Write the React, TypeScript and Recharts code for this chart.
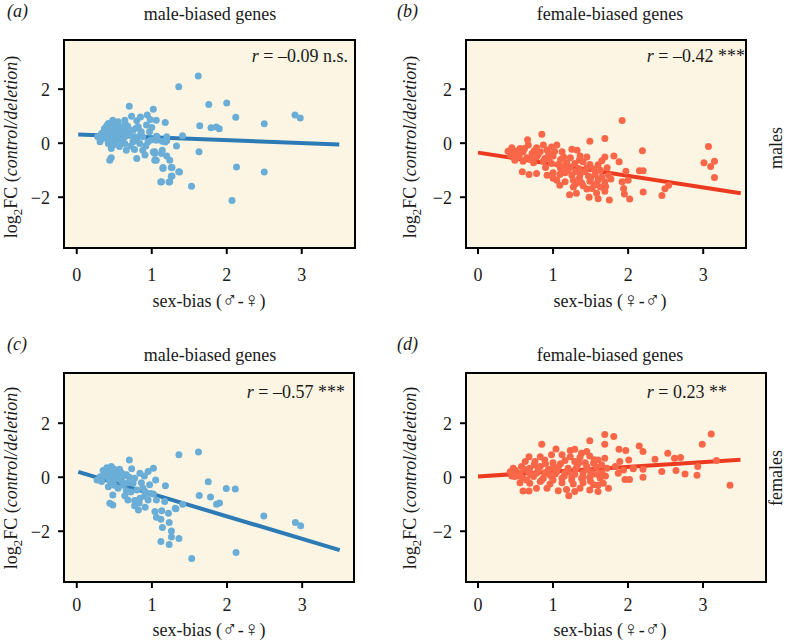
import React from "react";
import { ScatterChart, Scatter, XAxis, YAxis, CartesianGrid, ReferenceArea, ReferenceLine } from "recharts";

const xTicks = [0, 1, 2, 3];
const yTicks = [-2, 0, 2];

// (a) male-biased genes, males
const maleBiasedMales: number[][] = [
  [1.36, 2.09], [1.62, 2.49], [1.76, 1.43], [2.0, 1.49], [2.12, 0.96], [2.91, 1.04], [2.98, 0.93], [2.5, 0.72],
  [1.64, 0.65], [1.79, 0.57], [1.86, 0.6], [1.9, 0.53], [1.41, 0.28], [1.33, -0.1], [1.63, -0.32], [2.13, -0.88],
  [2.5, -1.07], [1.37, -1.07], [1.53, -1.59], [2.07, -2.12], [1.12, -1.44], [1.23, -1.44], [1.27, -1.21], [1.27, -0.9],
  [1.15, -0.9], [1.04, -0.63], [1.2, -0.47], [1.24, -0.63], [1.02, -0.33], [1.18, 0.04], [1.2, 0.24], [1.06, 0.85],
  [1.02, 1.26], [1.14, 0.07], [1.07, 0.25], [0.99, 0.12], [1.0, 0.58], [0.98, 0.88],
  [0.7, 1.37], [0.73, 1.0], [0.85, 0.97], [0.94, 1.04], [0.8, 0.83], [1.18, 0.77], [0.48, 0.85], [0.42, 0.73],
  [0.55, 0.79], [0.64, 0.85], [0.37, 0.54], [0.46, 0.6], [0.57, 0.54], [0.68, 0.63], [0.82, 0.6], [0.93, 0.67],
  [0.97, 0.42], [0.86, 0.42], [0.75, 0.48], [0.33, 0.36], [0.42, 0.36], [0.51, 0.42], [0.6, 0.36], [0.28, 0.24],
  [0.35, 0.17], [0.44, 0.17], [0.53, 0.24], [0.64, 0.24], [0.77, 0.24], [0.88, 0.24], [1.06, 0.26], [0.31, 0.05],
  [0.42, -0.01], [0.51, 0.05], [0.64, -0.01], [0.75, 0.05], [0.84, -0.01], [0.95, 0.05], [1.06, 0.11], [1.2, 0.09],
  [0.46, -0.2], [0.66, -0.26], [0.77, -0.23], [0.88, -0.26], [1.04, -0.32], [1.14, -0.26], [0.8, -0.57], [0.91, -0.44],
  [1.04, -0.38], [1.13, -0.38], [0.44, -0.63], [0.46, -0.54], [1.06, -0.63], [1.15, -0.94], [1.26, -0.9], [1.36, -1.06],
  [1.26, -1.22], [1.13, -1.43], [1.24, -1.43],
  [0.4, 0.45], [0.45, 0.5], [0.5, 0.65], [0.38, 0.3], [0.47, 0.3], [0.55, 0.15], [0.58, 0.62], [0.62, 0.5],
  [0.43, 0.1], [0.5, -0.05], [0.6, 0.1], [0.7, 0.3], [0.72, -0.1], [0.65, 0.7], [0.53, 0.45], [0.36, 0.42],
  [0.48, 0.2], [0.4, 0.65], [0.57, -0.12], [0.68, 0.4], [0.79, 0.55], [0.8, 0.1], [0.92, -0.1], [0.85, 0.3],
];

// (b) female-biased genes, males
const femaleBiasedMales: number[][] = [
  [1.92, 0.84], [3.07, -0.12], [3.01, -0.72], [3.1, -0.86], [3.15, -0.67], [3.15, -1.27], [2.19, -0.28], [2.49, -1.69],
  [2.45, -1.94], [2.2, -1.81], [2.54, -1.56], [2.15, -1.02], [2.2, -1.02],
  [0.85, 0.33], [1.49, 0.07], [1.69, 0.17], [0.66, 0.13], [0.45, -0.17], [0.56, -0.2], [0.67, -0.07], [0.78, -0.17],
  [0.87, -0.07], [0.98, -0.14], [1.05, -0.07], [1.25, -0.22], [1.32, -0.26], [1.12, -0.32], [0.47, -0.38], [0.6, -0.32],
  [0.72, -0.38], [0.83, -0.32], [0.94, -0.38], [0.52, -0.51], [0.65, -0.54], [0.78, -0.51], [0.89, -0.57], [1.0, -0.47],
  [1.14, -0.51], [1.23, -0.54], [1.36, -0.47], [1.45, -0.51], [1.69, -0.51], [1.81, -0.47], [1.88, -0.69], [0.49, -0.63],
  [0.6, -0.67], [0.74, -0.72], [0.87, -0.67], [0.98, -0.75], [1.07, -0.79], [1.18, -0.72], [1.29, -0.75], [1.4, -0.69],
  [1.49, -0.79], [1.23, -0.88], [1.34, -0.94], [1.45, -0.91], [1.54, -0.96], [1.63, -1.0], [1.72, -0.91], [0.59, -1.06],
  [0.68, -1.16], [0.78, -1.12], [0.92, -1.19], [1.0, -1.09], [1.09, -1.16], [1.16, -1.09], [1.25, -1.19], [1.36, -1.16],
  [1.47, -1.21], [1.56, -1.16], [1.65, -1.25], [1.74, -1.19], [1.97, -1.04], [1.05, -1.37], [1.16, -1.43], [1.27, -1.37],
  [1.38, -1.46], [1.49, -1.41], [1.58, -1.49], [1.69, -1.43], [1.77, -1.33], [1.92, -1.43], [2.0, -1.37], [1.09, -1.56],
  [1.27, -1.62], [1.4, -1.58], [1.52, -1.68], [1.63, -1.62], [1.69, -1.78], [1.94, -1.68], [1.22, -1.91], [1.31, -1.85],
  [1.48, -2.0], [1.6, -2.06], [1.75, -2.1], [1.95, -1.88], [2.02, -2.07],
  [0.5, -0.3], [0.55, -0.45], [0.62, -0.2], [0.7, -0.6], [0.75, -0.28], [0.8, -0.42], [0.92, -0.25], [0.95, -0.55],
  [1.02, -0.3], [1.1, -0.6], [1.15, -0.85], [1.2, -1.0], [1.3, -1.05], [1.35, -1.3], [1.42, -1.05], [1.5, -1.3],
  [1.55, -1.55], [1.6, -1.35], [1.45, -1.7], [1.3, -1.5], [1.35, -0.62], [1.6, -0.8], [1.65, -0.65], [0.4, -0.3],
  [0.43, -0.45], [1.7, -1.6], [1.58, -1.85], [1.1, -0.95], [0.9, -0.9], [1.0, -1.3],
];

// (c) male-biased genes, females
const maleBiasedFemales: number[][] = [
  [1.36, 0.83], [1.62, 0.93], [1.75, -0.17], [1.99, -0.42], [2.11, -0.44], [1.63, -0.68], [1.78, -0.73], [1.86, -1.0],
  [1.9, -0.95], [2.49, -1.44], [2.91, -1.68], [2.98, -1.8], [2.12, -2.79], [1.53, -3.01], [1.36, -2.27], [1.12, -2.38],
  [1.23, -2.49], [1.26, -2.21], [1.26, -1.99], [1.23, -1.68], [1.14, -1.86], [1.12, -1.56], [1.32, -1.17], [1.41, -1.0],
  [1.18, -0.32],
  [0.7, 0.64], [0.73, 0.31], [1.02, 0.33], [0.46, 0.4], [0.42, 0.27], [0.53, 0.21], [0.37, 0.15], [0.6, 0.15],
  [0.66, 0.09], [0.95, 0.21], [0.84, 0.15], [0.31, 0.02], [0.44, 0.02], [0.55, -0.04], [0.77, -0.04], [0.9, 0.05],
  [1.05, -0.1], [0.33, -0.16], [0.46, -0.22], [0.6, -0.16], [0.75, -0.22], [0.86, -0.2], [0.97, -0.28], [0.42, -0.35],
  [0.55, -0.41], [0.66, -0.5], [0.8, -0.47], [0.91, -0.53], [1.02, -0.62], [0.48, -0.66], [0.64, -0.69], [0.68, -0.84],
  [0.77, -0.86], [0.84, -0.78], [0.95, -0.84], [1.06, -0.84], [1.17, -0.9], [0.44, -0.96], [0.48, -1.03], [0.77, -1.06],
  [0.82, -1.21], [0.91, -1.11], [1.31, -1.15], [1.04, -1.27], [1.13, -1.24], [1.22, -1.33], [1.06, -1.48],
  [0.4, 0.35], [0.45, 0.1], [0.5, 0.3], [0.38, 0.05], [0.48, -0.1], [0.52, 0.1], [0.58, -0.05], [0.62, 0.05],
  [0.35, 0.25], [0.43, -0.08], [0.57, 0.3], [0.5, -0.3], [0.68, -0.2], [0.72, -0.55], [0.88, -0.4], [0.83, -0.95],
  [0.9, -0.7], [0.98, -0.6], [0.62, -0.3], [0.7, 0.0], [0.27, -0.1],
];

// (d) female-biased genes, females
const femaleBiasedFemales: number[][] = [
  [1.69, 1.58], [1.81, 1.51], [1.69, 1.22], [1.49, 1.35], [0.85, 1.22], [1.04, 1.05], [1.88, 1.04], [1.97, 0.99],
  [2.15, 1.16], [2.2, 0.95], [1.23, 0.99], [1.29, 1.04], [1.38, 0.89], [1.45, 0.95], [0.68, 0.76], [0.83, 0.76],
  [0.98, 0.83], [1.12, 0.83], [1.23, 0.76], [1.36, 0.74], [1.49, 0.79], [1.6, 0.64], [1.69, 0.7], [1.89, 0.58],
  [2.01, 0.64], [0.63, 0.58], [0.76, 0.58], [0.89, 0.64], [1.0, 0.54], [1.16, 0.62], [1.29, 0.58], [1.43, 0.54],
  [1.54, 0.52], [0.47, 0.33], [0.58, 0.4], [0.69, 0.33], [0.83, 0.4], [0.94, 0.3], [1.07, 0.37], [1.2, 0.33],
  [1.32, 0.4], [1.45, 0.3], [1.58, 0.37], [1.72, 0.33], [1.83, 0.4], [1.94, 0.27], [2.07, 0.33], [2.2, 0.3],
  [0.43, 0.2], [0.56, 0.15], [0.67, 0.2], [0.78, 0.15], [0.89, 0.17], [1.03, 0.12], [1.16, 0.17], [1.29, 0.11],
  [1.4, 0.17], [1.54, 0.12], [1.65, 0.17], [1.87, 0.15], [0.49, 0.03], [0.6, -0.04], [0.74, 0.03], [0.87, -0.04],
  [0.98, 0.03], [1.12, -0.04], [1.25, 0.03], [1.38, -0.04], [1.49, 0.0], [1.63, -0.04], [1.96, -0.08], [2.02, -0.08],
  [0.56, -0.2], [0.69, -0.22], [0.83, -0.16], [0.96, -0.25], [1.12, -0.2], [1.27, -0.25], [1.4, -0.2], [1.54, -0.28],
  [1.67, -0.22], [0.92, -0.41], [1.07, -0.5], [1.18, -0.45], [1.36, -0.41], [1.49, -0.47], [1.6, -0.53], [1.74, -0.41],
  [0.6, -0.51], [0.68, -0.51], [0.78, -0.41], [1.21, -0.69], [1.29, -0.53],
  [3.11, 1.6], [2.99, 1.22], [2.53, 0.89], [2.36, 0.67], [2.62, 0.7], [2.7, 0.73], [2.93, 0.4], [3.18, 0.62],
  [2.45, 0.21], [2.64, 0.25], [2.76, 0.12], [2.92, 0.07], [3.36, -0.3], [2.2, 0.0], [2.07, 0.31],
  [0.5, 0.25], [0.55, 0.05], [0.62, 0.3], [0.7, 0.1], [0.75, 0.45], [0.8, 0.25], [0.9, 0.5], [0.95, 0.1],
  [1.0, 0.35], [1.05, 0.2], [1.1, 0.5], [1.15, 0.05], [1.2, 0.2], [1.3, 0.3], [1.35, 0.55], [1.4, 0.0],
  [1.45, 0.4], [1.5, 0.2], [1.55, 0.65], [1.6, 0.1], [1.65, 0.45], [1.7, 0.05], [0.45, 0.05], [0.65, -0.1],
  [0.85, -0.1], [1.0, -0.1], [1.25, -0.1], [1.5, -0.15], [1.6, -0.3],
];

// regression line end points [x, y]
const fitA = [[0.02, 0.32], [3.5, -0.05]];
const fitB = [[0.0, -0.35], [3.5, -1.85]];
const fitC = [[0.02, 0.2], [3.5, -2.7]];
const fitD = [[0.0, 0.03], [3.5, 0.65]];

const BLUE_DOT = "#6aaed8";
const BLUE_LINE = "#2c7bb6";
const RED_DOT = "#fa6748";
const RED_LINE = "#ec3a20";
const PANEL_BG = "#fdf5e3";
const FONT = "Liberation Serif, Times New Roman, DejaVu Serif, serif";

const Dot = (props: any) => {
  const { cx, cy, fill } = props;
  if (cx == null || cy == null) return null;
  return <circle cx={cx} cy={cy} r={3.5} fill={fill} />;
};

function Panel(props: any) {
  const { box, xDomain, yDomain, points, fit, dot, line, tickGap } = props;
  const axisW = 64;
  const mTop = 40;
  const mRight = 30;
  const xAxisH = 30;
  const mBottom = 40;
  const width = box.r - box.l + axisW + mRight;
  const height = box.b - box.t + mTop + xAxisH + mBottom;
  const data = points.map((p: number[]) => ({ x: p[0], y: p[1] }));
  const tickStyle = { fontFamily: FONT, fontSize: 18, fill: "#1a1a1a" };

  return (
    <div style={{ position: "absolute", left: box.l - axisW, top: box.t - mTop }}>
      <ScatterChart width={width} height={height} margin={{ top: mTop, right: mRight, bottom: mBottom, left: 0 }}>
        <CartesianGrid fill={PANEL_BG} horizontal={false} vertical={false} />
        <XAxis
          type="number"
          dataKey="x"
          domain={xDomain}
          ticks={xTicks}
          allowDataOverflow
          axisLine={false}
          tickLine={{ stroke: "#000", strokeWidth: 2 }}
          tickSize={6}
          tickMargin={tickGap}
          height={xAxisH}
          tick={tickStyle}
          interval={0}
        />
        <YAxis
          type="number"
          dataKey="y"
          domain={yDomain}
          ticks={yTicks}
          allowDataOverflow
          axisLine={false}
          tickLine={{ stroke: "#000", strokeWidth: 2 }}
          tickSize={6}
          tickMargin={8}
          width={axisW}
          tick={tickStyle}
          tickFormatter={(v: number) => (v < 0 ? "\u2212" + Math.abs(v) : String(v))}
          interval={0}
        />
        <Scatter data={data} fill={dot} shape={<Dot />} isAnimationActive={false} />
        <ReferenceLine
          segment={[{ x: fit[0][0], y: fit[0][1] }, { x: fit[1][0], y: fit[1][1] }]}
          stroke={line}
          strokeWidth={4}
        />
        <ReferenceArea
          x1={xDomain[0]}
          x2={xDomain[1]}
          y1={yDomain[0]}
          y2={yDomain[1]}
          fill="none"
          fillOpacity={0}
          stroke="#000"
          strokeWidth={2}
        />
      </ScatterChart>
    </div>
  );
}

const YTitle = ({ x, y }: { x: number; y: number }) => (
  <text transform={`translate(${x},${y}) rotate(-90)`} textAnchor="middle" fontSize={18}>
    log<tspan dy={5} fontSize={13}>2</tspan>
    <tspan dy={-5}>FC (</tspan>
    <tspan fontStyle="italic">control/deletion</tspan>)
  </text>
);

const RText = ({ x, y, value, stars }: any) => (
  <text x={x} y={y} textAnchor="end" fontSize={18}>
    <tspan fontStyle="italic">r</tspan> = {value} {stars}
  </text>
);

const MALE = "\u2642";
const FEMALE = "\u2640";

const XTitle = ({ x, y, first, second }: any) => (
  <text x={x} y={y} fontSize={18} textAnchor="middle">
    sex-bias (<tspan fontSize={21}>{first}</tspan>-<tspan fontSize={21}>{second}</tspan>)
  </text>
);

export default function App() {
  return (
    <div style={{ position: "absolute", left: 0, top: 0, width: 785, height: 642, background: "#fff", fontFamily: FONT }}>
      <Panel
        box={{ l: 64, r: 355, t: 40, b: 248 }}
        xDomain={[-0.17, 3.71]}
        yDomain={[-3.88, 3.82]}
        points={maleBiasedMales}
        fit={fitA}
        dot={BLUE_DOT}
        line={BLUE_LINE}
        tickGap={14}
      />
      <Panel
        box={{ l: 466, r: 746, t: 40, b: 248 }}
        xDomain={[-0.16, 3.57]}
        yDomain={[-3.88, 3.82]}
        points={femaleBiasedMales}
        fit={fitB}
        dot={RED_DOT}
        line={RED_LINE}
        tickGap={14}
      />
      <Panel
        box={{ l: 64, r: 354, t: 373, b: 582 }}
        xDomain={[-0.17, 3.69]}
        yDomain={[-3.88, 3.86]}
        points={maleBiasedFemales}
        fit={fitC}
        dot={BLUE_DOT}
        line={BLUE_LINE}
        tickGap={10}
      />
      <Panel
        box={{ l: 466, r: 766, t: 373, b: 582 }}
        xDomain={[-0.16, 3.84]}
        yDomain={[-3.88, 3.86]}
        points={femaleBiasedFemales}
        fit={fitD}
        dot={RED_DOT}
        line={RED_LINE}
        tickGap={10}
      />
      <svg
        width={785}
        height={642}
        style={{ position: "absolute", left: 0, top: 0, pointerEvents: "none", fontFamily: FONT }}
        fill="#1a1a1a"
      >
        <text x={7} y={17} fontSize={18} fontStyle="italic">(a)</text>
        <text x={397} y={17} fontSize={18} fontStyle="italic">(b)</text>
        <text x={7} y={350} fontSize={18} fontStyle="italic">(c)</text>
        <text x={397} y={350} fontSize={18} fontStyle="italic">(d)</text>

        <text x={210} y={20} fontSize={18} textAnchor="middle">male-biased genes</text>
        <text x={610} y={20} fontSize={18} textAnchor="middle">female-biased genes</text>
        <text x={210} y={361} fontSize={18} textAnchor="middle">male-biased genes</text>
        <text x={610} y={361} fontSize={18} textAnchor="middle">female-biased genes</text>

        <RText x={348} y={62} value={"\u20130.09"} stars="n.s." />
        <RText x={745} y={62} value={"\u20130.42"} stars="***" />
        <RText x={345} y={398} value={"\u20130.57"} stars="***" />
        <RText x={727} y={398} value="0.23" stars="**" />

        <XTitle x={209} y={307} first={MALE} second={FEMALE} />
        <XTitle x={610} y={307} first={FEMALE} second={MALE} />
        <XTitle x={209} y={636} first={MALE} second={FEMALE} />
        <XTitle x={610} y={636} first={FEMALE} second={MALE} />

        <YTitle x={17} y={147} />
        <YTitle x={416} y={147} />
        <YTitle x={17} y={478} />
        <YTitle x={416} y={478} />

        <text transform="translate(782,148) rotate(-90)" fontSize={18} textAnchor="middle">males</text>
        <text transform="translate(782,478) rotate(-90)" fontSize={18} textAnchor="middle">females</text>
      </svg>
    </div>
  );
}
